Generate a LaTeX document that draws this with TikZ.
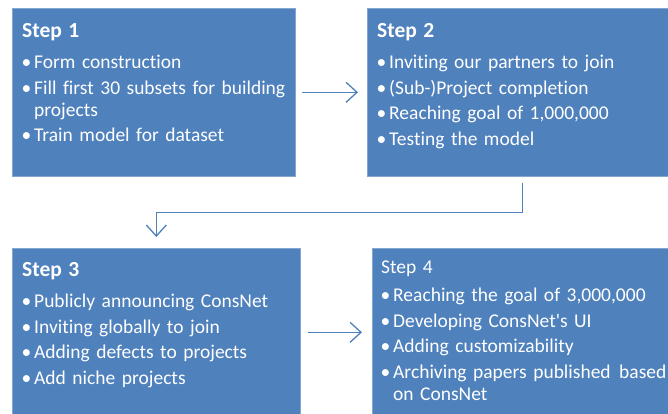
\documentclass[tikz,border=0pt]{standalone}
\usepackage{fontspec}
\setmainfont{Carlito}[Ligatures={NoCommon,NoRare,NoDiscretionary}]
\usetikzlibrary{arrows.meta}
\definecolor{stepblue}{HTML}{4F81BD}
\newcommand{\stephead}[2]{{#1#2\par}}
\newcommand{\stepitem}[1]{\par\vskip3.6pt\hangindent=12pt\hangafter=1\noindent\makebox[12pt][l]{\hspace{-0.5pt}•}#1}

\begin{document}
\begin{tikzpicture}[x=1pt,y=-1pt,
    stepbox/.style={fill=stepblue,draw=stepblue!70!white,line width=0.6pt,
      minimum width=#1,minimum height=168pt,anchor=north west,inner sep=0pt},
    steptext/.style={anchor=base west,text width=#1,align=left,inner sep=0pt,
      text=white,font=\fontsize{19.5}{22}\selectfont},
    flow/.style={draw=stepblue,line width=1.3pt,
      -{Straight Barb[length=11pt,width=20pt,line width=1.3pt]}}]
    \clip (0,0) rectangle (668,413);
    \fill[white] (0,0) rectangle (668,413);
    % the four step boxes
    \node[stepbox=283pt] (s1) at (12,8) {};
    \node[stepbox=310pt] (s2) at (367,8) {};
    \node[stepbox=288pt] (s3) at (12,248) {};
    \node[stepbox=310pt] (s4) at (372,248) {};
    % step 1
    \node[steptext=264pt] (t1) at ([shift={(10,29)}]s1.north west) {%
      \stephead{\bfseries\fontsize{21.5}{22}\selectfont}{Step 1}\vskip6pt
      \stepitem{Form construction}
      \stepitem{Fill first 30 subsets for building projects}
      \stepitem{Train model for dataset}\par};
    % step 2
    \node[steptext=285pt] (t2) at ([shift={(10,29)}]s2.north west) {%
      \stephead{\bfseries\fontsize{21.5}{22}\selectfont}{Step 2}\vskip6pt
      \stepitem{Inviting our partners to join}
      \stepitem{(Sub-)Project completion}
      \stepitem{Reaching goal of 1,000,000}
      \stepitem{Testing the model}\par};
    % step 3
    \node[steptext=270pt] (t3) at ([shift={(10,28)}]s3.north west) {%
      \stephead{\bfseries\fontsize{21.5}{22}\selectfont}{Step 3}\vskip6pt
      \stepitem{Publicly announcing ConsNet}
      \stepitem{Inviting globally to join}
      \stepitem{Adding defects to projects}
      \stepitem{Add niche projects}\par};
    % step 4, heading not bold
    \node[steptext=290pt] (t4) at ([shift={(9,25)}]s4.north west) {%
      \stephead{}{Step 4}\vskip3pt
      \stepitem{Reaching the goal of 3,000,000}
      \stepitem{Developing ConsNet\textquotesingle s UI}
      \stepitem{Adding customizability}
      \stepitem{Archiving papers published\hspace{2pt} based on ConsNet}\par};
    % connectors
    \draw[flow,shorten <=6pt,shorten >=9pt] (s1.east) -- (s2.west);
    \draw[flow,shorten <=6pt,shorten >=11pt] (s2.south) -- ++(0,36) -| (s3.north);
    \draw[flow,shorten <=7pt,shorten >=10pt] (s3.east) -- (s4.west);
\end{tikzpicture}
\end{document}
